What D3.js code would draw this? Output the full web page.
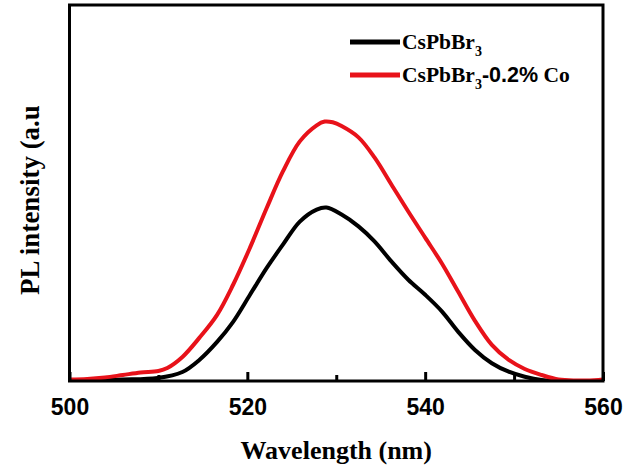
<!DOCTYPE html>
<html>
<head>
<meta charset="utf-8">
<script src="https://cdn.jsdelivr.net/npm/d3@7"></script>
<style>
  html, body { margin: 0; padding: 0; background: #fff; }
  svg { display: block; }
</style>
</head>
<body>
<svg id="chart" width="625" height="472"></svg>
<script>
// ---- data ----
const wavelengthPure = [500, 503.4, 506, 509.9, 512.7, 514.6, 516.6, 518.4, 520.3, 522.2, 524.0, 525.9, 527.8, 528.9, 530.6, 532.5, 534.3, 536.2, 538.1, 540.0, 541.9, 543.7, 545.6, 547.5, 549.4, 551.2, 553.1, 555.0, 560];
const intensityPure  = [20, 40, 60, 120, 360, 840, 1560, 2360, 3440, 4520, 5440, 6360, 6840, 6920, 6640, 6170, 5570, 4770, 4040, 3440, 2770, 1970, 1240, 710, 370, 170, 40, 10, 0];

const wavelengthCo = [500, 502, 504, 506, 508, 510, 511, 512.7, 514.6, 516.6, 518.4, 520.3, 522.2, 524.0, 525.9, 527.8, 528.7, 529.6, 530.6, 532.5, 534.3, 536.2, 538.1, 540.0, 541.9, 543.7, 545.6, 547.5, 549.4, 551.2, 553.1, 555.0, 556.9, 559.5, 560];
const intensityCo  = [60, 80, 140, 240, 340, 400, 520, 960, 1720, 2640, 3840, 5320, 6920, 8360, 9560, 10200, 10350, 10320, 10170, 9720, 8920, 7840, 6760, 5720, 4680, 3570, 2400, 1440, 840, 480, 240, 60, 20, 40, 60];

const majorTicks = [500, 520, 540, 560];
const minorTicks = [510, 530, 550];
const seriesNames = ["CsPbBr3", "CsPbBr3-0.2% Co"];
const seriesColors = ["#000000", "#e8121a"];

// ---- layout ----
const svg = d3.select("#chart");
const mLeft = 69.5, mRight = 603, mTop = 5, mBottom = 381;

const x = d3.scaleLinear().domain([500, 560]).range([mLeft, mRight]);
const y = d3.scaleLinear().domain([0, 15000]).range([mBottom, mTop]);

const line = d3.line()
  .x(d => x(d[0]))
  .y(d => y(d[1]))
  .curve(d3.curveCatmullRom.alpha(0.5));

const series = [
  d3.zip(wavelengthPure, intensityPure),
  d3.zip(wavelengthCo, intensityCo)
];

svg.append("defs").append("clipPath").attr("id", "clip")
  .append("rect").attr("x", mLeft).attr("y", mTop).attr("width", mRight - mLeft).attr("height", mBottom - mTop);

const g = svg.append("g").attr("clip-path", "url(#clip)");
series.forEach((s, i) => {
  g.append("path")
    .datum(s)
    .attr("d", line)
    .attr("fill", "none")
    .attr("stroke", seriesColors[i])
    .attr("stroke-width", 4)
    .attr("stroke-linejoin", "round")
    .attr("stroke-linecap", "round");
});

// frame
svg.append("rect")
  .attr("x", mLeft).attr("y", mTop)
  .attr("width", mRight - mLeft).attr("height", mBottom - mTop)
  .attr("fill", "none").attr("stroke", "#000").attr("stroke-width", 3);

// bottom axis (inward ticks)
const axis = d3.axisBottom(x)
  .tickValues(majorTicks.concat(minorTicks))
  .tickSizeInner(-9)
  .tickSizeOuter(0)
  .tickPadding(18)
  .tickFormat(d => majorTicks.includes(d) ? d3.format("d")(d) : "");

const ax = svg.append("g").attr("transform", `translate(0,${mBottom})`).call(axis);
ax.select(".domain").remove();
ax.selectAll(".tick line")
  .attr("stroke", "#000")
  .attr("stroke-width", 3)
  .attr("y2", d => majorTicks.includes(d) ? -9 : -6);
ax.selectAll(".tick text")
  .attr("fill", "#000")
  .style("font-family", "'Liberation Sans', Arial, sans-serif")
  .style("font-weight", "bold")
  .style("font-size", "23px");

// axis titles
svg.append("text")
  .attr("x", (mLeft + mRight) / 2)
  .attr("y", 459)
  .attr("text-anchor", "middle")
  .style("font-family", "'Liberation Serif', 'Times New Roman', serif")
  .style("font-weight", "bold")
  .style("font-size", "26px")
  .text("Wavelength (nm)");

svg.append("text")
  .attr("transform", "translate(39,200) rotate(-90)")
  .attr("text-anchor", "middle")
  .style("font-family", "'Liberation Serif', 'Times New Roman', serif")
  .style("font-weight", "bold")
  .style("font-size", "27px")
  .text("PL intensity (a.u");

// legend
const legendY = [42, 75];
const lg = svg.append("g");
seriesNames.forEach((name, i) => {
  lg.append("line")
    .attr("x1", 350).attr("x2", 400)
    .attr("y1", legendY[i]).attr("y2", legendY[i])
    .attr("stroke", seriesColors[i])
    .attr("stroke-width", 5);
  const t = lg.append("text")
    .attr("x", 402)
    .attr("y", legendY[i] + 7)
    .style("font-family", "'Liberation Serif', 'Times New Roman', serif")
    .style("font-weight", "bold")
    .style("font-size", "21.5px");
  t.append("tspan").text("CsPbBr");
  t.append("tspan").attr("dy", 7).style("font-size", "14px").text("3");
  if (i === 1) {
    t.append("tspan").attr("dy", -7)
      .style("font-family", "'Liberation Sans', Arial, sans-serif")
      .text("-0.2%");
    t.append("tspan").text(" Co");
  }
});
</script>
</body>
</html>
